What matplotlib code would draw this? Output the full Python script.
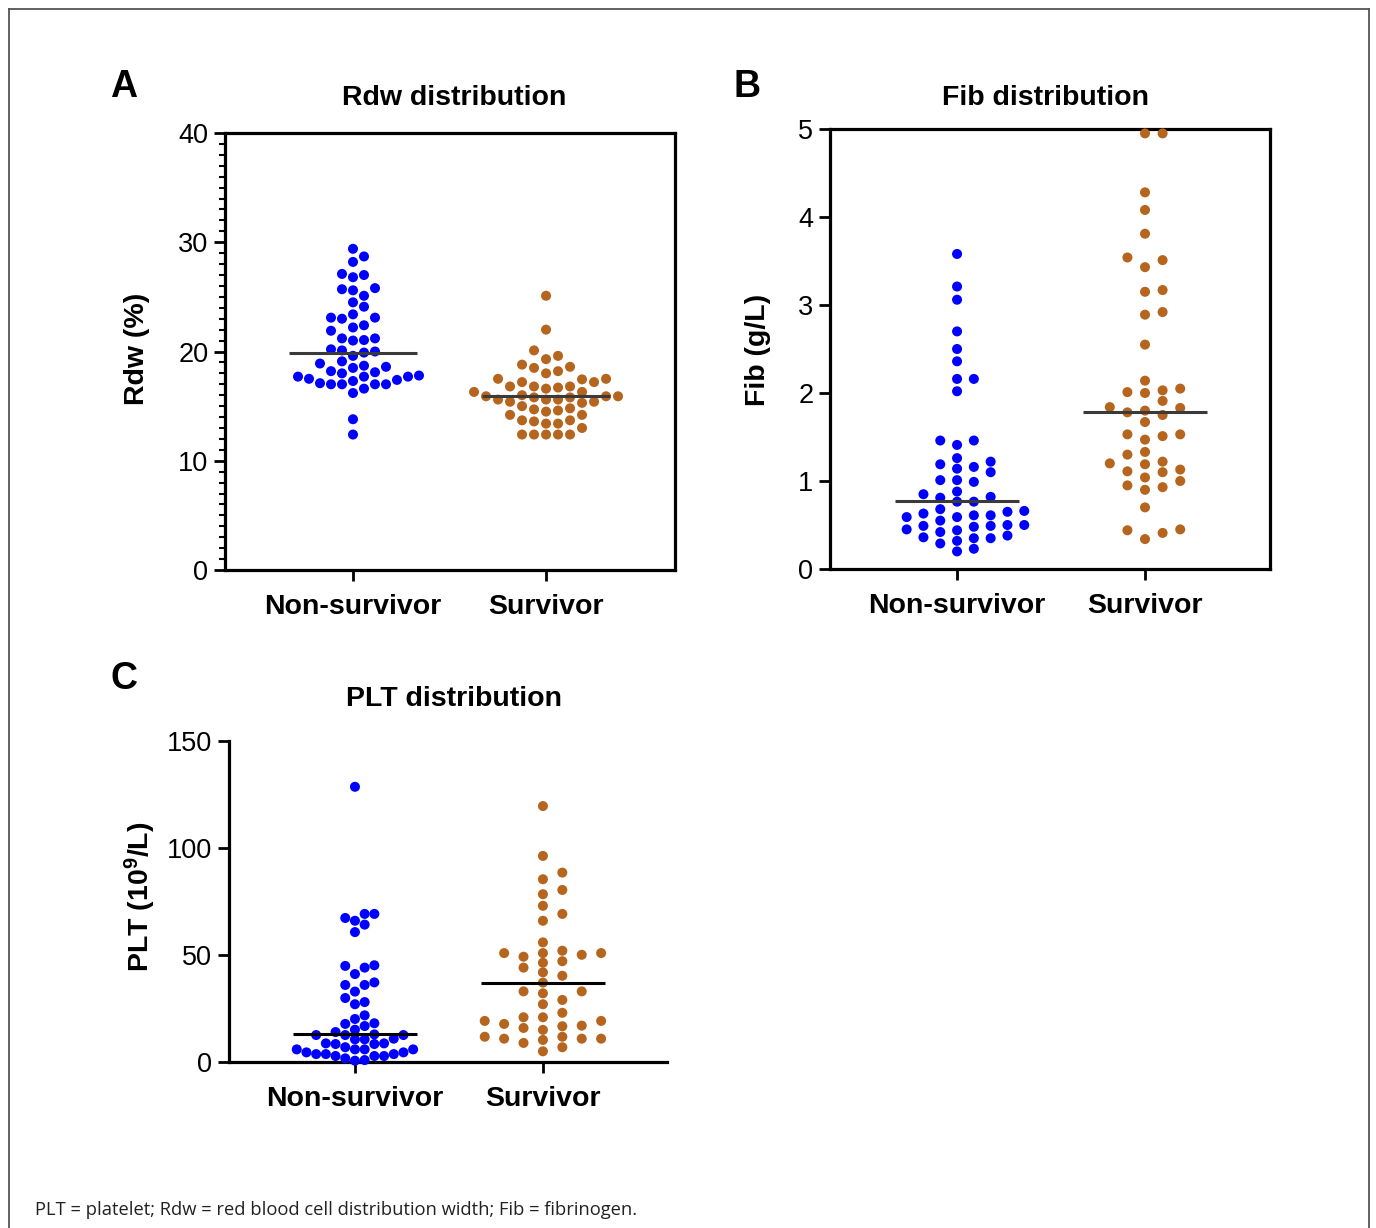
import numpy as np
import matplotlib
matplotlib.use("Agg")
import matplotlib.pyplot as plt
from matplotlib.lines import Line2D
from matplotlib.ticker import MultipleLocator

plt.rcParams['font.family'] = ['Liberation Sans', 'DejaVu Sans']
plt.rcParams['mathtext.fontset'] = 'custom'
plt.rcParams['mathtext.rm'] = 'Liberation Sans:bold'
plt.rcParams['mathtext.bf'] = 'Liberation Sans:bold'
plt.rcParams['mathtext.default'] = 'bf'

# ---------------- data ----------------
groups = ['Non-survivor', 'Survivor']

rdw_non = [29.4, 28.7, 28.2, 26.8, 27.1, 27.0, 25.6, 25.8, 25.7, 25.1, 24.5, 24.1,
           23.4, 23.1, 23.1, 23.0, 22.4, 22.2, 21.9, 21.2, 21.05, 21.0, 21.2, 20.0,
           20.1, 20.2, 19.9, 19.6, 19.1, 18.9, 18.7, 18.2, 18.5, 18.6, 18.0, 18.1,
           17.8, 17.3, 17.4, 17.7, 17.1, 17.0, 17.0, 17.0, 17.0, 17.7, 17.7, 17.5,
           16.6, 16.2, 13.8, 12.4]
rdw_surv = [25.1, 22.0, 20.1, 19.3, 19.6, 18.8, 18.5, 18.6, 18.2, 18.0, 17.5, 17.2,
            17.2, 17.5, 17.45, 16.8, 16.8, 16.7, 16.8, 16.6, 16.3, 16.3, 15.8, 15.9,
            16.0, 15.9, 15.9, 15.8, 15.6, 15.6, 15.6, 15.4, 15.3, 15.4, 15.0, 14.8,
            14.6, 14.5, 14.7, 14.2, 14.2, 13.7, 13.7, 13.4, 13.4, 13.6, 13.0, 12.4,
            12.4, 12.4, 12.4, 12.4]

fib_non = [3.58, 3.21, 3.06, 2.70, 2.50, 2.36, 2.16, 2.16, 2.02, 1.46, 1.46, 1.41,
           1.16, 1.19, 1.22, 1.26, 1.10, 1.14, 1.01, 0.99, 1.01, 0.85, 0.88, 0.82,
           0.81, 0.765, 0.765, 0.68, 0.65, 0.66, 0.61, 0.63, 0.61, 0.59, 0.59, 0.55,
           0.50, 0.50, 0.48, 0.49, 0.49, 0.45, 0.44, 0.42, 0.38, 0.35, 0.36, 0.32,
           0.35, 0.29, 0.23, 0.20]
fib_surv = [4.95, 4.95, 4.28, 4.08, 3.81, 3.54, 3.51, 3.43, 3.17, 3.15, 2.92, 2.89,
            2.55, 2.14, 2.05, 2.03, 2.01, 2.00, 1.91, 1.84, 1.80, 1.83, 1.78, 1.75,
            1.67, 1.53, 1.53, 1.51, 1.47, 1.30, 1.33, 1.19, 1.22, 1.20, 1.13, 1.11,
            1.10, 1.04, 1.00, 0.93, 0.90, 0.95, 0.70, 0.45, 0.44, 0.41, 0.34]

plt_non = [128.6, 69.2, 69.2, 67.3, 66.0, 64.2, 60.7, 44.1, 44.9, 45.2, 41.1, 37.2,
           36.0, 36.0, 32.9, 29.9, 28.0, 27.0, 21.8, 20.1, 17.8, 18.1, 16.8, 15.1,
           12.9, 14.0, 12.6, 12.6, 12.6, 10.9, 10.6, 10.6, 8.7, 8.4, 8.7, 8.4,
           5.9, 4.5, 4.5, 5.9, 6.9, 5.9, 5.9, 2.8, 3.7, 3.7, 2.8, 2.8, 3.7,
           0.9, 1.7, 0.6]
plt_surv = [119.6, 96.3, 88.5, 85.4, 80.4, 78.4, 73.0, 69.2, 66.0, 55.9, 52.0, 50.9,
            50.9, 49.2, 50.9, 50.1, 46.4, 47.1, 44.1, 41.9, 40.3, 37.1, 32.1, 33.0,
            33.0, 29.0, 27.0, 23.0, 19.2, 20.9, 16.7, 17.0, 17.8, 19.2, 20.9, 15.9,
            15.0, 11.8, 10.3, 10.9, 8.9, 11.8, 10.9, 10.9, 6.9, 5.0]

# central (median) lines
rdw_center = [19.9, 15.9]
fib_center = [0.77, 1.78]
plt_center = [12.9, 37.1]

rdw_ticks = [0, 10, 20, 30, 40]
fib_ticks = [0, 1, 2, 3, 4, 5]
plt_ticks = [0, 50, 100, 150]

titles = ['Rdw distribution', 'Fib distribution', 'PLT distribution']
ylabels = ['Rdw (%)', 'Fib (g/L)', r'PLT (10$^{9}$/L)']
letters = ['A', 'B', 'C']
caption = 'PLT = platelet; Rdw = red blood cell distribution width; Fib = fibrinogen.'

# ---------------- layout helpers ----------------
W, H = 1376, 1228
fig = plt.figure(figsize=(W / 100, H / 100), dpi=100)
fig.patch.set_facecolor('white')


def fx(px):
    return px / W


def fy(py):
    return 1 - py / H


def ax_rect(l, t, r, b):
    return [fx(l), fy(b), (r - l) / W, (b - t) / H]


BLUE = '#0000ff'
BROWN = '#b5651d'
LW = 2.3


def swarm_offsets(ax, values, step_px, diam_px):
    vals = np.asarray(values, float)
    tr = ax.transData
    ypx = tr.transform(np.column_stack([np.zeros(len(vals)), vals]))[:, 1]
    xunit = tr.transform([[1, 0]])[0, 0] - tr.transform([[0, 0]])[0, 0]
    step = step_px / xunit
    order = np.argsort(vals, kind='stable')
    cands = [0] + [s * j for j in range(1, 60) for s in (1, -1)]
    last = {}
    offs = np.zeros(len(vals))
    for i in order:
        for c in cands:
            if c not in last or ypx[i] - last[c] >= diam_px:
                break
        last[c] = ypx[i]
        offs[i] = c * step
    return offs


def panel(rect, xlim, ylim, ticks, data, centers, steps_px, diam_px,
          box=True, minor=None, line_color='#3a3a3a'):
    ax = fig.add_axes(rect)
    ax.set_xlim(*xlim)
    ax.set_ylim(*ylim)
    ax.set_yticks(ticks)
    ax.set_xticks([0, 1])
    ax.set_xticklabels(groups)
    for sp in ax.spines.values():
        sp.set_linewidth(LW)
    if not box:
        ax.spines['top'].set_visible(False)
        ax.spines['right'].set_visible(False)
    ax.tick_params(axis='y', direction='out', length=8, width=2, labelsize=19.5, pad=4)
    ax.tick_params(axis='x', direction='out', length=8, width=2, labelsize=20.5, pad=9)
    for lbl in ax.get_xticklabels():
        lbl.set_fontweight('bold')
    if minor is not None:
        ax.yaxis.set_minor_locator(MultipleLocator(minor))
        ax.tick_params(axis='y', which='minor', direction='out', length=4, width=1.5)
    colors = [BLUE, BROWN]
    for k, vals in enumerate(data):
        offs = swarm_offsets(ax, vals, steps_px[k], diam_px)
        ax.scatter(k + offs, vals, s=52, color=colors[k], edgecolors='none',
                   zorder=3, clip_on=False)
        ax.plot([k - 0.33, k + 0.33], [centers[k], centers[k]], color=line_color,
                lw=2.2, zorder=4, solid_capstyle='butt')
    return ax


axA = panel(ax_rect(225, 133, 675, 570), (-0.663, 1.668), (0, 40), rdw_ticks,
            [rdw_non, rdw_surv], rdw_center, [11, 12], 10, box=True, minor=1)
axB = panel(ax_rect(830, 129, 1270, 569), (-0.676, 1.665), (0, 5), fib_ticks,
            [fib_non, fib_surv], fib_center, [16.8, 17.6], 10, box=True)
axC = panel(ax_rect(229, 741, 667, 1062), (-0.670, 1.660), (0, 150), plt_ticks,
            [plt_non, plt_surv], plt_center, [9.7, 19.4], 9.5, box=False,
            line_color='black')

# titles, letters, y-labels
for (x, y), t in zip([(454, 98), (1046, 98), (454, 699)], titles):
    fig.text(fx(x), fy(y), t, ha='center', va='center', fontsize=20.5, fontweight='bold')
for (x, y), t in zip([(124, 87), (747, 87), (124, 679)], letters):
    fig.text(fx(x), fy(y), t, ha='center', va='center', fontsize=27, fontweight='bold')
for (x, y), t in zip([(137, 349), (758, 350), (140, 897)], ylabels):
    fig.text(fx(x), fy(y), t, ha='center', va='center', rotation=90,
             fontsize=20.5, fontweight='bold')

# caption
fig.text(fx(35), fy(1210), caption, ha='left', va='center', fontsize=13.2,
         family=['Open Sans', 'DejaVu Sans'], color='#222222')

# outer frame
fc = '#555555'
fig.add_artist(Line2D([fx(9), fx(9)], [fy(9), 0], color=fc, lw=1.3))
fig.add_artist(Line2D([fx(1369), fx(1369)], [fy(9), 0], color=fc, lw=1.3))
fig.add_artist(Line2D([fx(9), fx(1369)], [fy(9), fy(9)], color=fc, lw=1.3))

fig.savefig('out.png', dpi=100, facecolor='white')
